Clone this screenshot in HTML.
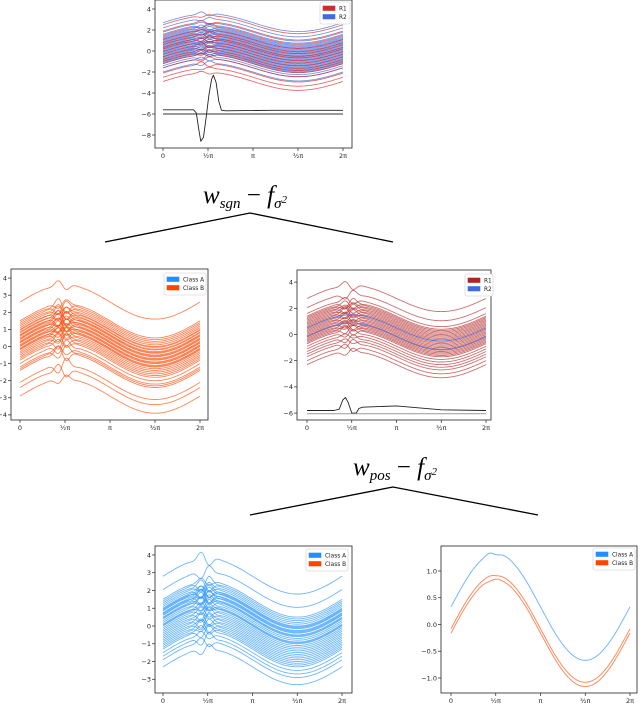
<!DOCTYPE html>
<html><head><meta charset="utf-8">
<style>
html,body{margin:0;padding:0;background:#fff;overflow:hidden;}
svg{display:block;font-family:"DejaVu Sans","Liberation Sans",sans-serif;}
</style></head>
<body>
<svg id="root" width="640" height="705" viewBox="0 0 640 705">
  <g>
    <text x="245" y="203" text-anchor="middle" font-family="Liberation Serif, serif" font-size="25" font-style="italic">w<tspan font-size="15" dy="5">sgn</tspan><tspan dy="-5" font-style="normal"> − </tspan>f<tspan font-size="15" dy="5">σ</tspan><tspan font-size="11" dy="-5">2</tspan></text>
  </g>
  <polyline points="105,242 250,213 393,242" fill="none" stroke="#000" stroke-width="1.3"/>
  <g>
    <text x="395" y="475" text-anchor="middle" font-family="Liberation Serif, serif" font-size="25" font-style="italic">w<tspan font-size="15" dy="5">pos</tspan><tspan dy="-5" font-style="normal"> − </tspan>f<tspan font-size="15" dy="5">σ</tspan><tspan font-size="11" dy="-5">2</tspan></text>
  </g>
  <polyline points="250,515 393,487 538,515" fill="none" stroke="#000" stroke-width="1.3"/>
</svg>
<script>
// ---- data ----
const xTickValsPi = [0, 0.5, 1, 1.5, 2];
const xTickLabels = ["0", "½π", "π", "³⁄₂π", "2π"];

const topR1Offsets = [2.5, 1.9, 1.5, 1.1, 0.8, 0.6, 0.35, 0.2, -0.05, -0.3, -0.55, -0.8, -1.0, -1.2, -1.6, -2.1, -2.5, -2.9];
const topR2Offsets = [2.7, 2.2, 1.8, 1.6, 1.4, 1.3, 1.2, 1.1, 1.0, 0.9, 0.8, 0.7, 0.6, 0.5, 0.4, 0.3, 0.2, 0.1, 0, -0.1, -0.2, -0.3, -0.4, -0.5, -0.6, -0.7, -0.8, -0.9, -1.0, -1.1, -1.2, -1.4, -1.6, -2.0];
const topYTicks = [4, 2, 0, -2, -4, -6, -8];
const topSignalX = [0, 0.34, 0.37, 0.4, 0.42, 0.45, 0.48, 0.51, 0.54, 0.56, 0.59, 0.62, 0.65, 0.7, 1.2, 2];
const topSignalY = [-5.6, -5.6, -5.9, -7.6, -8.6, -8.2, -6.3, -4.2, -2.7, -2.3, -3.0, -4.8, -5.65, -5.7, -5.65, -5.65];
const topFlatLine = [-6.0];

const midLeftOffsets = [2.6, 1.5, 1.4, 1.3, 1.2, 1.1, 1.0, 0.95, 0.85, 0.8, 0.7, 0.65, 0.6, 0.5, 0.45, 0.4, 0.3, 0.25, 0.2, 0.1, 0.05, 0, -0.1, -0.15, -0.2, -0.3, -0.4, -0.5, -0.6, -0.7, -0.8, -1.0, -1.2, -1.3, -1.4, -2.1, -2.4, -2.9];
const midLeftYTicks = [4, 3, 2, 1, 0, -1, -2, -3, -4];

const midRightR1Offsets = [2.75, 2.05, 1.6, 1.4, 1.3, 1.2, 1.1, 1.0, 0.9, 0.8, 0.7, 0.6, 0.5, 0.4, 0.3, 0.2, 0.1, 0, -0.1, -0.2, -0.3, -0.4, -0.5, -0.6, -0.7, -0.9, -1.1, -1.3, -1.5, -1.7, -2.0, -2.3];
const midRightR2Offsets = [0.5, -0.15];
const midRightYTicks = [4, 2, 0, -2, -4, -6];
const midSignalX = [0, 0.3, 0.36, 0.4, 0.43, 0.46, 0.5, 0.55, 0.58, 0.62, 1.0, 1.5, 2];
const midSignalY = [-5.8, -5.8, -5.7, -5.0, -4.8, -5.2, -6.0, -6.0, -5.65, -5.55, -5.45, -5.75, -5.8];
const midFlatLine = [-6.05];

const botLeftOffsets = [2.8, 2.05, 1.5, 1.4, 1.3, 1.2, 1.1, 1.0, 0.95, 0.9, 0.85, 0.75, 0.7, 0.65, 0.6, 0.5, 0.45, 0.4, 0.3, 0.2, 0.1, 0.05, 0, -0.1, -0.2, -0.3, -0.4, -0.5, -0.6, -0.7, -0.8, -0.9, -1.0, -1.1, -1.2, -1.3, -1.5, -1.7, -1.9, -2.3];
const botLeftYTicks = [4, 3, 2, 1, 0, -1, -2, -3];

const botRightAOffsets = [0.33];
const botRightBOffsets = [-0.08, -0.16];
const botRightYTicks = [1.0, 0.5, 0.0, -0.5, -1.0];
const botRightYLabels = ["1.0", "0.5", "0.0", "−0.5", "−1.0"];

// ---- drawing ----
const NS = "http://www.w3.org/2000/svg";
const root = document.getElementById("root");
function mk(tag, attrs, parent) {
  const e = document.createElementNS(NS, tag);
  for (const k in attrs) e.setAttribute(k, attrs[k]);
  parent.appendChild(e);
  return e;
}
function panel(cfg) {
  const g = mk("g", {}, root);
  
  
  const sx = v => cfg.x0 + (cfg.x2pi - cfg.x0) * v / (2 * Math.PI);
  const sy = v => cfg.y0 - cfg.unit * v;
  cfg.sx = sx; cfg.sy = sy; cfg.g = g;
  const fr = mk("rect", {x: cfg.bx, y: cfg.by, width: cfg.bw, height: cfg.bh, fill: "none", stroke: "#222", "stroke-width": 0.8}, g);
  
  
  const clip = mk("clipPath", {id: "c" + cfg.name}, g);
  mk("rect", {x: cfg.bx, y: cfg.by, width: cfg.bw, height: cfg.bh}, clip);
  cfg.cg = mk("g", {"clip-path": "url(#c" + cfg.name + ")"}, g);
  xTickValsPi.forEach((p, i) => {
    const X = sx(p * Math.PI);
    const t = mk("line", {x1: X, x2: X, y1: cfg.by + cfg.bh, y2: cfg.by + cfg.bh + 3, stroke: "#222", "stroke-width": 0.7}, g);
    
    
    const l = mk("text", {x: X, y: cfg.by + cfg.bh + 10, "font-size": 6.5, "text-anchor": "middle", fill: "#222"}, g);
    l.textContent = xTickLabels[i];
    
    
  });
  cfg.yTicks.forEach((v, i) => {
    const Y = sy(v);
    const t = mk("line", {x1: cfg.bx - 3, x2: cfg.bx, y1: Y, y2: Y, stroke: "#222", "stroke-width": 0.7}, g);
    
    
    const l = mk("text", {x: cfg.bx - 4, y: Y + 2.3, "font-size": 6.5, "text-anchor": "end", fill: "#222"}, g);
    l.textContent = cfg.yLabels ? cfg.yLabels[i] : (v < 0 ? "−" + (-v) : String(v));
    
    
  });
  return cfg;
}
function wave(cfg, off, amp, bump, idx, color, op, w, name) {
  const pts = [];
  const c = 0.47 * Math.PI;
  const s = (idx % 2 ? 1 : -1) * bump * (0.4 + (Math.abs(off * 1.7) % 0.6));
  for (let k = 0; k <= 200; k++) {
    const x = 2 * Math.PI * k / 200;
    const d = (x - c) / 0.3;
    const y = off + amp * Math.sin(x) + s * Math.sin(d * 2.4) * Math.exp(-d * d);
    pts.push(cfg.sx(x).toFixed(1) + "," + cfg.sy(y).toFixed(1));
  }
  const p = mk("polyline", {points: pts.join(" "), fill: "none", stroke: color, "stroke-opacity": op, "stroke-width": w}, cfg.cg);
  
  
}
function signal(cfg, xs, ys, name) {
  const pts = xs.map((p, i) => cfg.sx(p * Math.PI).toFixed(1) + "," + cfg.sy(ys[i]).toFixed(1));
  const p = mk("polyline", {points: pts.join(" "), fill: "none", stroke: "#222", "stroke-width": 0.9, "stroke-linejoin": "round"}, cfg.cg);
  
  
}
function flat(cfg, v, color, name) {
  const p = mk("line", {x1: cfg.sx(0), x2: cfg.sx(2 * Math.PI), y1: cfg.sy(v), y2: cfg.sy(v), stroke: color, "stroke-width": 0.9}, cfg.cg);
  
  
}
function legend(cfg, x, y, w, entries) {
  const h = 22;
  const lg = mk("g", {}, cfg.g);
  
  
  mk("rect", {x: x, y: y, width: w, height: h, fill: "#fff", stroke: "#ccc", "stroke-width": 0.6, rx: 2}, lg);
  entries.forEach((e, i) => {
    const eg = mk("g", {}, lg);
    
    
    mk("rect", {x: x + 3, y: y + 4 + i * 8.5, width: 12, height: 4.5, fill: e[1], stroke: e[1], "stroke-width": 0.6}, eg);
    const t = mk("text", {x: x + 19, y: y + 8.5 + i * 8.5, "font-size": 5.8, fill: "#222"}, eg);
    t.textContent = e[0];
  });
}

const P1 = panel({name: "chart-top", bx: 155, by: 0, bw: 197, bh: 148, x0: 163, x2pi: 343, y0: 51, unit: 10.5, yTicks: topYTicks});
topR2Offsets.forEach((o, i) => wave(P1, o, 0.85, 0.35, i, "#3a5fd8", 0.7, 0.85, "series-r2-line"));
topR1Offsets.forEach((o, i) => wave(P1, o, 0.85, 0.35, i + 1, "#d62728", 0.7, 0.85, "series-r1-line"));
signal(P1, topSignalX, topSignalY, "signal-line");
flat(P1, topFlatLine[0], "#333", "baseline-line");
legend(P1, 320, 2, 30, [["R1", "#c9302c"], ["R2", "#4169e1"]]);

const P2 = panel({name: "chart-mid-left", bx: 11, by: 269, bw: 197, bh: 151, x0: 20, x2pi: 200, y0: 346.5, unit: 17.1, yTicks: midLeftYTicks});
midLeftOffsets.forEach((o, i) => wave(P2, o, 1.0, 0.6, i, "#ff4500", 0.65, 0.9, "series-class-b-line"));
legend(P2, 164, 273, 42, [["Class A", "#1e90ff"], ["Class B", "#ff4500"]]);

const P3 = panel({name: "chart-mid-right", bx: 297, by: 270, bw: 194, bh: 150, x0: 307, x2pi: 486, y0: 334.5, unit: 13.1, yTicks: midRightYTicks});
midRightR1Offsets.forEach((o, i) => wave(P3, o, 1.0, 0.5, i, "#b22222", 0.65, 0.9, "series-r1-line"));
midRightR2Offsets.forEach((o, i) => wave(P3, o, 1.0, 0.0, i, "#4169e1", 0.7, 1.0, "series-r2-line"));
signal(P3, midSignalX, midSignalY, "signal-line");
flat(P3, midFlatLine[0], "#999", "baseline-line");
legend(P3, 465, 274, 28, [["R1", "#b22222"], ["R2", "#4169e1"]]);

const P4 = panel({name: "chart-bottom-left", bx: 155, by: 546, bw: 197, bh: 147, x0: 163, x2pi: 342, y0: 626, unit: 17.76, yTicks: botLeftYTicks});
botLeftOffsets.forEach((o, i) => wave(P4, o, 1.0, 0.55, i, "#1e90ff", 0.65, 0.9, "series-class-a-line"));
legend(P4, 306, 549, 42, [["Class A", "#1e90ff"], ["Class B", "#ff4500"]]);

const P5 = panel({name: "chart-bottom-right", bx: 441, by: 546, bw: 196, bh: 147, x0: 451, x2pi: 630, y0: 624.5, unit: 53.5, yTicks: botRightYTicks, yLabels: botRightYLabels});
botRightAOffsets.forEach((o, i) => wave(P5, o, 1.0, 0.04, i, "#6cb4ff", 0.95, 1.0, "series-class-a-line"));
botRightBOffsets.forEach((o, i) => wave(P5, o, 1.0, 0.02, i, "#ff7f50", 0.9, 1.0, "series-class-b-line"));
legend(P5, 593, 548, 42, [["Class A", "#1e90ff"], ["Class B", "#ff4500"]]);
</script>
</body></html>
